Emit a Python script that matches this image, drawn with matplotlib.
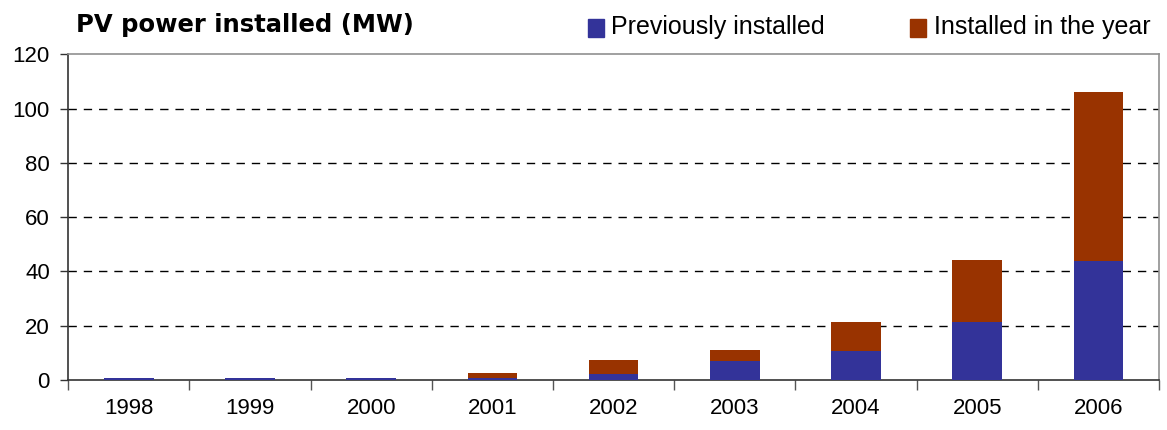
import numpy as np
import matplotlib
matplotlib.use("Agg")
import matplotlib.pyplot as plt
from matplotlib.patches import Rectangle

years = ["1998", "1999", "2000", "2001", "2002", "2003", "2004", "2005", "2006"]
previously = [0.8, 0.6, 0.6, 0.6, 2.3, 6.9, 10.6, 21.5, 44.0]
total = [0.8, 0.6, 0.6, 2.8, 7.3, 11.1, 21.5, 44.4, 106.0]
in_year = [t - p for t, p in zip(total, previously)]

blue = "#333399"
red = "#993300"

plt.rcParams["font.family"] = ["Liberation Sans", "DejaVu Sans"]

fig = plt.figure(figsize=(11.67, 4.3), dpi=100)
ax = fig.add_axes([0.0583, 0.116, 0.935, 0.758])

x = np.arange(len(years))
ax.bar(x, previously, width=0.41, color=blue, zorder=3)
ax.bar(x, in_year, width=0.41, bottom=previously, color=red, zorder=3)

ax.set_xlim(-0.5, len(years) - 0.5)
ax.set_ylim(0, 120)
ax.set_yticks(range(0, 121, 20))
ax.tick_params(axis="y", direction="out", length=6, width=1, color="#333333",
               labelsize=16, pad=7)

# category labels without ticks, tick marks between categories
ax.set_xticks(x)
ax.set_xticklabels(years)
ax.tick_params(axis="x", which="major", length=0, labelsize=16, pad=13)
ax.set_xticks(np.arange(-0.5, len(years)), minor=True)
ax.tick_params(axis="x", which="minor", direction="out", length=7, width=1, color="#555555")

for v in range(20, 101, 20):
    ax.axhline(v, color="black", lw=1, ls=(0, (6, 5)), zorder=1)

ax.spines["top"].set_color("#909090")
ax.spines["right"].set_color("#909090")
ax.spines["left"].set_color("#333333")
ax.spines["bottom"].set_color("#333333")
for s in ax.spines.values():
    s.set_linewidth(1.2)

fig.text(0.0651, 0.925, "PV power installed (MW)", fontsize=17.5, fontweight="bold",
         family="DejaVu Sans", ha="left", va="baseline")

# legend drawn as squares + text
for xs, xt, label, col in [(0.5039, 0.5236, "Previously installed", blue),
                           (0.7798, 0.8003, "Installed in the year", red)]:
    fig.patches.append(Rectangle((xs, 0.914), 0.0137, 0.042, transform=fig.transFigure,
                                 color=col, figure=fig))
    fig.text(xt, 0.921, label, fontsize=18, ha="left", va="baseline")

fig.savefig("out.png", dpi=100)
